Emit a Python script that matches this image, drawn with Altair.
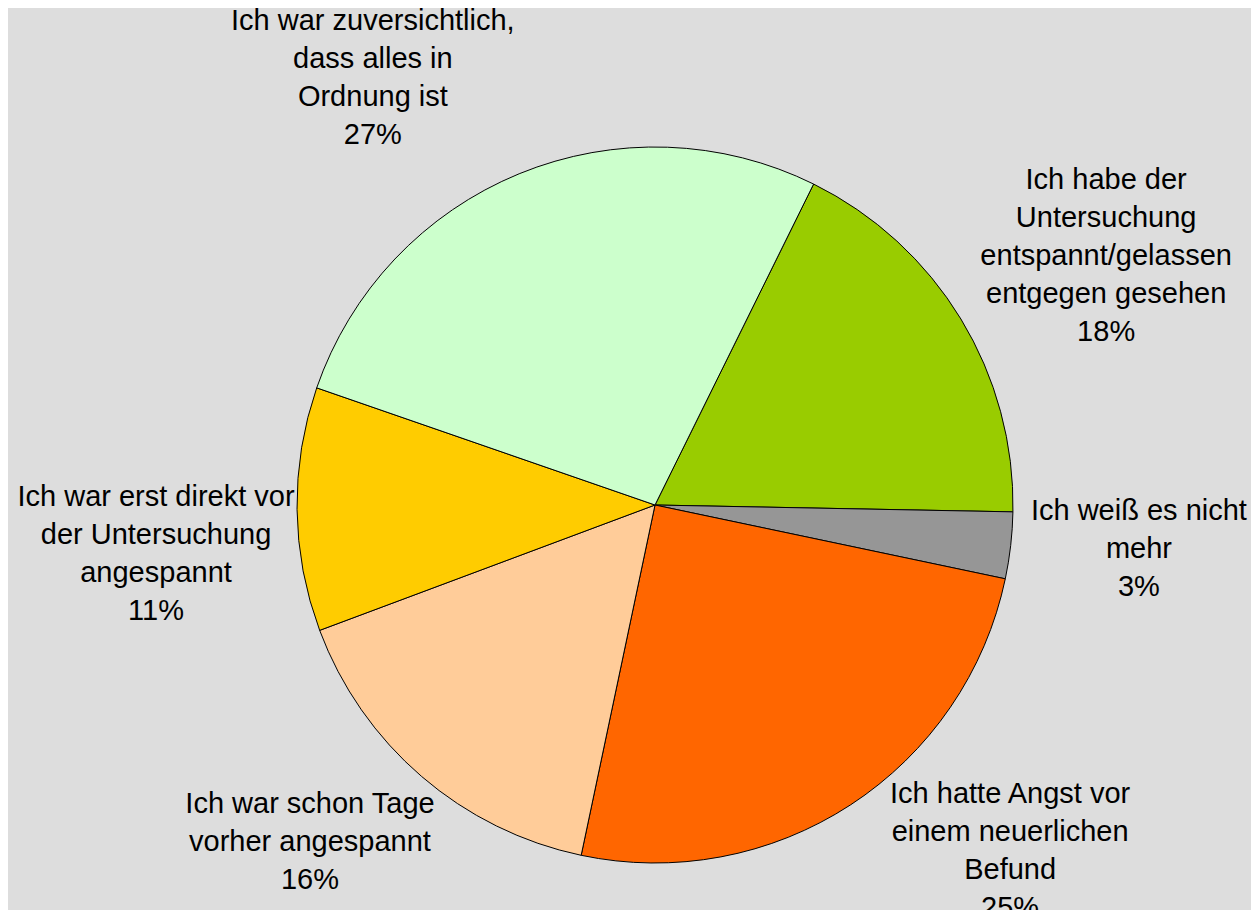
import math
import altair as alt
import pandas as pd

# ---- data ----
category_lines = [
    ["Ich habe der", "Untersuchung", "entspannt/gelassen", "entgegen gesehen"],
    ["Ich weiß es nicht", "mehr"],
    ["Ich hatte Angst vor", "einem neuerlichen", "Befund"],
    ["Ich war schon Tage", "vorher angespannt"],
    ["Ich war erst direkt vor", "der Untersuchung", "angespannt"],
    ["Ich war zuversichtlich,", "dass alles in", "Ordnung ist"],
]
percent = [18, 3, 25, 16, 11, 27]
colors = ["#99CC00", "#969696", "#FF6600", "#FFCC99", "#FFCC00", "#CCFFCC"]

categories = [" ".join(l) for l in category_lines]
labels = ["\n".join(l + [f"{p}%"]) for l, p in zip(category_lines, percent)]

df = pd.DataFrame({
    "category": categories,
    "label": labels,
    "value": percent,
    "order": list(range(len(categories))),
})

# ---- layout ----
W, H = 1243, 902
CX, CY = 647, 497          # pie centre inside plot area
R = 358                    # pie radius
LABEL_R = 480
START = math.radians(26.3)
FONT = "Liberation Sans"
FONT_SIZE = 29
LINE_H = 38
# per-label nudges (dx, dy) like Excel's label placement (block centre)
nudges = [(41, 0), (7, -10), (93, -56), (-32, -27), (-19, 43), (-100, 17)]

theta_scale = alt.Scale(domain=[0, 100], range=[START, START + 2 * math.pi])

base = alt.Chart(df)

pie = base.mark_arc(outerRadius=R, stroke="black", strokeWidth=1).encode(
    theta=alt.Theta("value:Q", stack=True, scale=theta_scale),
    color=alt.Color("category:N", scale=alt.Scale(domain=categories, range=colors), legend=None),
    order=alt.Order("order:Q"),
    x=alt.value(CX),
    y=alt.value(CY),
)

lab_base = base.transform_window(
    cum="sum(value)", sort=[alt.SortField("order")]
).transform_calculate(mid="datum.cum - datum.value / 2")

layers = [pie]
for i, (dx, dy) in enumerate(nudges):
    n_lines = len(category_lines[i]) + 1
    dy_block = dy - (n_lines - 1) * LINE_H / 2
    layers.append(
        lab_base.transform_filter(f"datum.order == {i}").mark_text(
            radius=LABEL_R, dx=dx, dy=dy_block, font=FONT, fontSize=FONT_SIZE,
            lineHeight=LINE_H, lineBreak="\n", align="center", baseline="middle",
            color="black",
        ).encode(
            theta=alt.Theta("mid:Q", stack=False, scale=theta_scale),
            text="label:N",
            x=alt.value(CX),
            y=alt.value(CY),
        )
    )

chart = alt.layer(*layers).properties(
    width=W, height=H, autosize=alt.AutoSizeParams(type="none"), padding=0,
    background="#DDDDDD",
).configure_view(stroke=None)

chart.save("out.html", embed_options={"renderer": "svg", "actions": False})
